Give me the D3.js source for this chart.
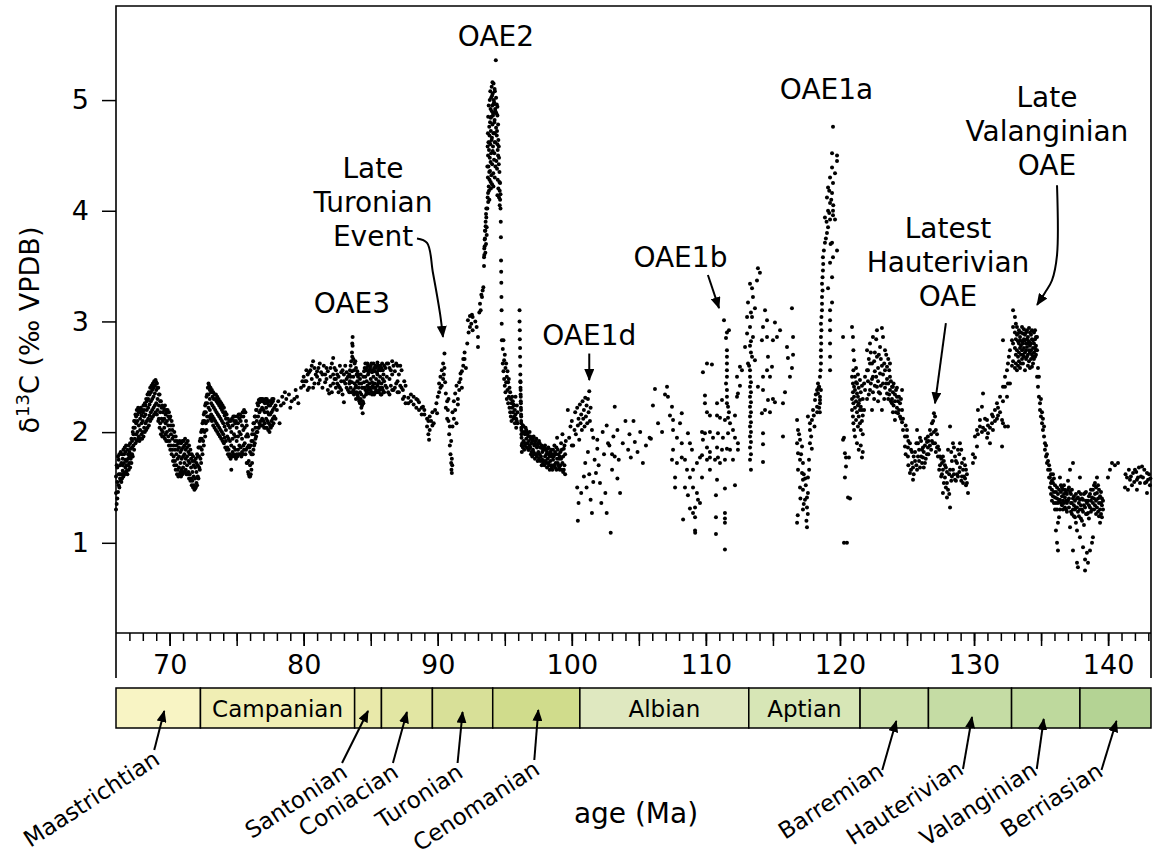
<!DOCTYPE html>
<html><head><meta charset="utf-8">
<script src="https://cdn.jsdelivr.net/npm/d3@7"></script>
<style>
body{margin:0;background:#fff;}
svg{display:block;font-family:"DejaVu Sans",sans-serif;}
</style></head><body>
<svg id="c" width="1153" height="855"></svg>
<script>
// ---------- DATA: rows are [age (Ma), d13C readings at that age ...] ----------
const maastrichtian = [[66.0,1.30,1.45,1.60],[66.1,1.40,1.55,1.68],[66.2,1.52,1.62,1.75],[66.3,1.58,1.70,1.62],[66.4,1.62,1.72,1.55],[66.5,1.65,1.76,1.70],[66.6,1.63,1.72,1.80],[66.7,1.68,1.75,1.82],[66.8,1.65,1.74,1.70],[66.9,1.70,1.80,1.76],[67.0,1.72,1.82,1.78],[67.1,1.76,1.85,1.80],[67.2,1.80,1.92,1.86],[67.3,1.88,1.98,2.04],[67.4,1.94,2.04,2.10],[67.5,1.98,2.08,2.14],[67.6,2.00,2.10,2.16],[67.7,1.96,2.06,2.18],[67.8,2.02,2.12,2.18],[67.9,1.98,2.08,2.15],[68.0,2.00,2.10,2.18],[68.1,2.04,2.14,2.20],[68.2,2.08,2.16,2.24],[68.3,2.10,2.20,2.28],[68.4,2.12,2.22,2.30],[68.5,2.15,2.25,2.34],[68.6,2.18,2.28,2.36],[68.7,2.20,2.30,2.38],[68.8,2.22,2.32,2.40],[68.9,2.24,2.35,2.42],[69.0,2.26,2.38,2.45],[69.1,2.20,2.30,2.40],[69.2,2.12,2.24,2.34],[69.3,2.08,2.18,2.28],[69.4,2.02,2.12,2.22],[69.5,2.00,2.10,2.18],[69.6,2.04,2.12,2.20],[69.7,1.98,2.08,2.16],[69.8,2.00,2.10,2.18],[69.9,1.96,2.06,2.14],[70.0,1.92,2.02,2.12],[70.1,1.88,1.98,2.06],[70.2,1.84,1.94,2.02],[70.3,1.78,1.88,1.96],[70.4,1.74,1.84,1.92],[70.5,1.70,1.80,1.88],[70.6,1.66,1.76,1.84],[70.7,1.68,1.78,1.86],[70.8,1.64,1.72,1.82],[70.9,1.66,1.76,1.84],[71.0,1.68,1.78,1.86],[71.1,1.72,1.80,1.88],[71.2,1.66,1.76,1.84],[71.3,1.70,1.78,1.86],[71.4,1.64,1.74,1.82],[71.5,1.62,1.72,1.80],[71.6,1.58,1.68,1.76],[71.7,1.56,1.64,1.74],[71.8,1.52,1.60,1.70],[71.9,1.49,1.58,1.68],[72.0,1.54,1.64,1.72],[72.1,1.60,1.70,1.78],[72.2,1.68,1.78,1.86]];
const maastrichtianExtra = [[66.05,1.35,1.70],[66.15,1.46,1.78],[66.25,1.50,1.80],[66.35,1.56,1.82],[66.45,1.58,1.80],[66.55,1.60,1.84],[66.65,1.62,1.86],[66.75,1.64,1.88],[66.85,1.62,1.84],[66.95,1.66,1.88],[67.05,1.68,1.90],[67.15,1.72,1.94],[67.25,1.78,2.00],[67.35,1.84,2.10],[67.45,1.90,2.16],[67.55,1.92,2.20],[67.65,1.94,2.22],[67.75,1.92,2.20],[67.85,1.94,2.22],[67.95,1.94,2.20],[68.05,1.96,2.24],[68.15,2.00,2.26],[68.25,2.02,2.30],[68.35,2.04,2.34],[68.45,2.06,2.36],[68.55,2.10,2.40],[68.65,2.12,2.42],[68.75,2.14,2.44],[68.85,2.16,2.46],[68.95,2.18,2.47],[69.05,2.16,2.44],[69.15,2.10,2.40],[69.25,2.04,2.34],[69.35,1.98,2.28],[69.45,1.96,2.24],[69.55,1.96,2.22],[69.65,1.94,2.24],[69.75,1.92,2.20],[69.85,1.92,2.20],[69.95,1.88,2.18],[70.05,1.84,2.14],[70.15,1.80,2.10],[70.25,1.74,2.06],[70.35,1.70,2.00],[70.45,1.66,1.96],[70.55,1.62,1.92],[70.65,1.60,1.90],[70.75,1.62,1.92],[70.85,1.60,1.90],[70.95,1.62,1.92],[71.05,1.64,1.92],[71.15,1.64,1.94],[71.25,1.62,1.90],[71.35,1.62,1.92],[71.45,1.58,1.88],[71.55,1.56,1.84],[71.65,1.52,1.80],[71.75,1.50,1.78],[71.85,1.48,1.74],[71.95,1.50,1.76],[72.05,1.52,1.80],[72.15,1.58,1.86],[72.25,1.66,1.92]];
const campanian = [[72.3,1.76,1.86,1.94],[72.4,1.84,1.94,2.02],[72.5,1.92,2.02,2.10],[72.6,2.00,2.10,2.18],[72.7,2.08,2.18,2.26],[72.8,2.14,2.26,2.34],[72.9,2.22,2.34,2.44],[73.0,2.20,2.30,2.38],[73.1,2.16,2.26,2.36],[73.2,2.14,2.24,2.32],[73.3,2.12,2.22,2.30],[73.4,2.10,2.20,2.30],[73.5,2.08,2.18,2.28],[73.6,2.06,2.16,2.26],[73.7,2.04,2.14,2.24],[73.8,2.02,2.12,2.22],[73.9,2.00,2.10,2.20],[74.0,1.98,2.08,2.18],[74.1,1.95,2.05,2.15],[74.2,1.92,2.02,2.12],[74.3,1.86,1.96,2.08],[74.4,1.84,1.94,2.06],[74.5,1.80,1.92,2.04],[74.6,1.66,1.88,2.00],[74.7,1.82,1.94,2.06],[74.8,1.86,1.98,2.10],[74.9,1.84,1.96,2.08],[75.0,1.80,1.92,2.04],[75.1,1.84,1.96,2.08],[75.2,1.88,2.00,2.12],[75.3,1.86,1.98,2.10],[75.4,1.82,1.94,2.06],[75.5,1.88,2.02,2.14],[75.6,1.90,2.04,2.18],[75.7,1.84,1.96,2.10],[75.8,1.72,1.86,1.98],[75.9,1.62,1.74,1.88],[76.0,1.60,1.70,1.82],[76.1,1.66,1.80,1.92],[76.2,1.80,1.92,2.02],[76.3,1.88,1.98,2.08],[76.4,1.94,2.04,2.14],[76.5,2.00,2.10,2.20],[76.6,2.04,2.14,2.24],[76.7,2.08,2.18,2.27],[76.8,2.10,2.20,2.28],[76.9,2.12,2.22,2.28],[77.0,2.10,2.20,2.28],[77.1,2.08,2.18,2.26],[77.2,2.12,2.22,2.29],[77.3,2.10,2.18,2.26],[77.4,2.08,2.16,2.24],[77.5,2.06,2.16,2.24],[77.6,2.10,2.18,2.26],[77.7,2.12,2.20,2.28],[77.8,2.14,2.22],[77.9,2.12,2.24],[78.0,2.20],[78.1,2.28],[78.2,2.08],[78.3,2.24],[78.4,2.32],[78.5,2.26],[78.6,2.36],[78.7,2.30],[78.9,2.34],[79.0,2.22],[79.1,2.28],[79.3,2.30],[79.4,2.38],[79.5,2.32],[79.6,2.26],[79.8,2.40],[79.9,2.46],[80.0,2.42,2.50],[80.2,2.46,2.56],[80.4,2.54,2.40],[80.6,2.60,2.48],[80.8,2.44,2.58],[81.0,2.50,2.55],[81.2,2.47,2.62],[81.4,2.40,2.52],[81.5,2.60],[81.6,2.52,2.45],[81.8,2.38,2.55],[81.9,2.35],[82.0,2.50,2.58,2.42],[82.2,2.67,2.44,2.52],[82.4,2.40,2.48,2.56],[82.6,2.42,2.50,2.36],[82.8,2.46,2.54,2.38],[83.0,2.27,2.46,2.52],[83.2,2.40,2.48,2.54],[83.4,2.36,2.44,2.52],[83.5,2.40,2.50,2.60],[83.6,2.45,2.55,2.72],[83.65,2.86,2.78],[83.7,2.38,2.50,2.66]];
const campanianExtra = [[72.35,1.72,2.00],[72.45,1.80,2.08],[72.55,1.88,2.16],[72.65,1.96,2.24],[72.75,2.02,2.32],[72.85,2.10,2.40],[72.95,2.14,2.42],[73.05,2.12,2.40],[73.15,2.10,2.38],[73.25,2.06,2.36],[73.35,2.04,2.34],[73.45,2.02,2.34],[73.55,2.00,2.32],[73.65,1.98,2.30],[73.75,1.96,2.28],[73.85,1.94,2.26],[73.95,1.92,2.24],[74.05,1.90,2.22],[74.15,1.86,2.18],[74.25,1.84,2.16],[74.35,1.80,2.12],[74.45,1.78,2.10],[74.55,1.76,2.10],[74.65,1.78,2.12],[74.75,1.80,2.14],[74.85,1.78,2.14],[74.95,1.76,2.10],[75.05,1.78,2.14],[75.15,1.80,2.16],[75.25,1.80,2.16],[75.35,1.78,2.14],[75.45,1.80,2.18],[75.55,1.84,2.20],[75.65,1.80,2.18],[75.75,1.72,2.06],[75.85,1.64,1.96],[75.95,1.60,1.86],[76.05,1.62,1.88],[76.15,1.72,1.98],[76.25,1.84,2.08],[76.35,1.90,2.14],[76.45,1.96,2.20],[76.55,2.00,2.26],[76.65,2.04,2.29],[76.75,2.06,2.30],[76.85,2.06,2.30],[76.95,2.06,2.30],[77.05,2.04,2.29],[77.15,2.04,2.30],[77.25,2.04,2.30],[77.35,2.02,2.28],[77.45,2.00,2.28],[77.55,2.04,2.28],[77.65,2.06,2.30],[77.75,2.08,2.30],[80.1,2.46],[80.3,2.38,2.52],[80.5,2.56],[80.7,2.40,2.64],[80.9,2.52],[81.1,2.44,2.58],[81.3,2.54],[81.7,2.48,2.58],[82.1,2.36,2.62],[82.3,2.48,2.58],[82.5,2.52,2.44],[82.7,2.40,2.60],[82.9,2.56,2.34],[83.1,2.44,2.60],[83.3,2.50,2.38],[83.45,2.46,2.56],[83.55,2.36,2.64],[83.62,2.68,2.80]];
const santonian = [[83.8,2.36,2.44,2.62],[83.9,2.30,2.42,2.58],[84.0,2.34,2.46,2.55],[84.1,2.30,2.40,2.52],[84.2,2.26,2.36,2.48],[84.3,2.22,2.34,2.44],[84.4,2.17,2.28,2.40],[84.5,2.32,2.45,2.55],[84.6,2.38,2.50,2.62],[84.7,2.36,2.46,2.58],[84.8,2.40,2.52,2.60],[84.9,2.35,2.44,2.56],[85.0,2.38,2.48,2.60],[85.1,2.34,2.45,2.54],[85.2,2.40,2.50,2.62],[85.3,2.36,2.44,2.55],[85.4,2.38,2.48,2.58],[85.5,2.42,2.52,2.63],[85.6,2.36,2.46,2.56],[85.7,2.40,2.50,2.60],[83.75,2.34,2.56],[83.85,2.40,2.64],[83.95,2.36,2.52],[84.05,2.32,2.50],[84.15,2.28,2.44],[84.25,2.30,2.52],[84.35,2.24,2.40],[84.45,2.26,2.50],[84.55,2.40,2.58],[84.65,2.34,2.56],[84.75,2.42,2.62],[84.85,2.38,2.54],[84.95,2.40,2.58],[85.05,2.36,2.62],[85.15,2.42,2.56],[85.25,2.34,2.58],[85.35,2.40,2.60],[85.45,2.36,2.54],[85.55,2.44,2.60],[85.65,2.38,2.58],[85.75,2.34,2.56]];
const coniacian = [[85.8,2.34,2.44,2.58],[85.9,2.38,2.48,2.56],[86.0,2.36,2.46,2.60],[86.2,2.40,2.50,2.62],[86.4,2.34,2.48,2.58],[86.6,2.38,2.52,2.64],[86.8,2.40,2.55],[87.0,2.36,2.46,2.60],[87.2,2.42,2.60],[87.4,2.30,2.38],[87.6,2.26,2.42],[87.8,2.31,2.26],[88.0,2.34,2.28],[88.2,2.32,2.25],[88.4,2.30,2.22],[88.5,2.29],[88.6,2.20,2.27],[88.8,2.22,2.16],[88.9,2.23],[89.0,2.16,2.20],[89.2,2.12,2.05],[89.3,1.98,2.10],[89.35,1.93],[89.4,2.14,2.02],[89.5,2.10],[85.85,2.40,2.62],[85.95,2.36,2.52],[86.1,2.42,2.58],[86.3,2.36,2.62],[86.5,2.42,2.56],[86.7,2.38,2.60],[86.9,2.44,2.62],[87.1,2.36,2.52],[87.3,2.40,2.56],[87.5,2.32,2.46]];
const turonian = [[89.6,2.18,2.06],[89.7,2.08],[89.8,2.20],[89.9,2.26],[89.95,2.17],[90.0,2.32],[90.1,2.44,2.36],[90.2,2.50,2.40],[90.3,2.56,2.42],[90.4,2.62,2.48],[90.45,2.52],[90.5,2.71,2.58],[90.55,2.45],[90.6,2.35,2.22],[90.7,2.28,2.12],[90.75,2.20],[90.8,2.10,2.30],[90.85,1.98],[90.9,1.88,2.05],[90.95,1.80],[91.0,1.72,1.92],[91.02,1.66],[91.05,1.63,1.76],[91.08,1.70],[91.1,2.05,2.18],[91.2,2.28,2.12],[91.3,2.35,2.20],[91.4,2.42,2.08],[91.5,2.25,2.30],[91.6,2.38,2.45],[91.7,2.48,2.53],[91.8,2.55,2.40],[91.9,2.60,2.66],[92.0,2.66,2.72],[92.1,2.58],[92.2,2.80],[92.25,3.01],[92.3,2.90],[92.4,2.95,3.05],[92.5,2.98],[92.55,3.06],[92.6,3.04,2.92],[92.8,3.00],[92.9,2.95],[93.0,2.86,2.77],[93.1,3.08],[93.15,3.16],[93.2,3.10],[93.25,3.24],[93.3,3.22],[93.35,3.28],[93.4,3.31],[93.45,3.50,3.58],[93.47,3.60,3.66],[93.5,3.68,3.74],[93.52,3.75,3.82],[93.55,3.82,3.62],[93.57,3.90,3.86],[93.6,3.97,3.70],[93.62,4.02,3.94],[93.65,3.85,3.78],[93.70,4.02,4.40],[93.72,4.12,4.58],[93.74,4.30,4.70],[93.76,4.08,4.85],[93.78,4.40,4.62],[93.80,4.22,4.95],[93.82,4.55,4.18],[93.84,4.35,4.76],[93.86,4.68,4.28],[93.88,4.48,5.00],[93.90,4.80,4.36],[93.92,4.60,5.08],[93.94,4.92,4.44],[93.96,4.72,4.20],[93.98,5.02,4.52],[94.00,4.85,4.32],[94.02,5.12,4.64],[94.04,4.66,4.90],[94.06,4.95,4.42],[94.08,4.78,5.16],[93.75,4.50,4.16],[93.85,4.10,4.62],[93.95,4.26,4.84],[94.05,4.24,5.04]];
const cenomanian = [[94.10,5.06,4.54],[94.12,4.58,4.86],[94.14,4.88,4.34],[94.16,5.15,4.70],[94.18,4.70,5.00],[94.20,4.98,4.46],[94.22,4.52,4.80],[94.24,4.82,5.10],[94.26,5.08,4.62],[94.28,4.62,4.92],[94.30,4.90,4.40],[94.33,5.36],[94.35,4.75,5.02],[94.37,4.45,4.88],[94.40,4.68,4.96],[94.42,4.38,4.72],[94.45,4.60,4.86],[94.47,4.28,4.55],[94.50,4.50,4.78],[94.52,4.20,4.64],[94.55,4.42,4.58],[94.57,4.12,4.48],[94.60,4.35,4.26],[94.62,4.05,4.18],[94.65,4.25,4.10],[94.68,4.15,4.02],[94.15,4.22,4.96],[94.25,4.30,4.70],[94.45,4.14,4.94],[94.70,3.90],[94.71,3.76],[94.72,3.55],[94.73,3.45],[94.74,3.35],[94.75,3.22],[94.76,3.10],[94.77,2.98],[94.78,2.83],[94.85,2.75,2.62],[94.9,2.83,2.55],[94.95,2.65,2.48],[95.0,2.70,2.42],[95.05,2.58,2.36],[95.1,2.62,2.45],[95.15,2.50,2.30],[95.2,2.55,2.38],[95.25,2.45,2.26],[95.3,2.48,2.32],[95.35,2.40,2.22],[95.4,2.36,2.18],[95.45,2.30,2.14],[95.5,2.26,2.10],[95.55,2.22,2.32],[95.6,2.18,2.28],[95.65,2.25,2.12],[95.7,2.14,2.24],[95.75,2.20,2.08],[95.8,2.32,2.16],[95.85,2.12,2.04],[95.9,2.24,2.10],[95.95,2.08,2.18],[96.10,3.10,3.00],[96.12,2.92,2.84],[96.14,2.76,2.68],[96.15,2.60],[96.16,2.52,2.46],[96.17,2.45,2.40],[96.18,2.38,2.34],[96.19,2.32,2.28],[96.20,2.26,2.22],[96.21,2.20,2.16],[96.22,2.14,2.10],[96.23,2.08,2.04],[96.24,2.02,1.98],[96.25,1.95],[96.26,1.88],[96.27,1.82],[96.3,2.00,1.90],[96.4,2.05,1.92],[96.5,1.88,1.98],[96.6,1.94,2.02],[96.7,1.90,1.98],[96.8,1.92,1.84],[96.9,1.96,1.86],[97.0,1.90,1.82],[97.1,1.84,1.94],[97.2,1.88,1.80],[97.3,1.80,1.92],[97.4,1.86,1.78],[97.5,1.82,1.90],[97.6,1.90,1.80],[97.7,1.78,1.86],[97.8,1.82,1.75],[97.9,1.74,1.84],[98.0,1.88,1.78],[98.1,1.80,1.72],[98.2,1.85,1.76],[98.3,1.70,1.80],[98.4,1.82,1.74],[98.5,1.78,1.68],[98.6,1.75,1.84],[98.7,1.88,1.70],[98.8,1.72,1.80],[98.9,1.95,1.76],[99.0,1.80,1.70],[99.1,1.66,1.78],[99.2,1.76,1.90],[99.3,1.98,1.72],[99.4,1.85,1.66],[99.5,1.62,1.80],[99.55,1.92],[96.35,1.86,2.06],[96.45,1.84,2.00],[96.55,1.90,2.04],[96.65,1.86,2.00],[96.75,1.84,1.96],[96.85,1.88,2.00],[96.95,1.80,1.94],[97.05,1.78,1.92],[97.15,1.82,1.96],[97.25,1.76,1.90],[97.35,1.80,1.94],[97.45,1.74,1.88],[97.55,1.76,1.92],[97.65,1.74,1.86],[97.75,1.70,1.88],[97.85,1.72,1.84],[97.95,1.70,1.86],[98.05,1.74,1.84],[98.15,1.68,1.82],[98.25,1.72,1.86],[98.35,1.66,1.78],[98.45,1.70,1.84],[98.55,1.66,1.80],[98.65,1.70,1.78],[98.75,1.68,1.82],[98.85,1.66,1.86],[98.95,1.72,1.84],[99.05,1.68,1.76],[99.15,1.70,1.82],[99.25,1.66,1.84],[99.35,1.64,1.78],[99.45,1.70,1.88],[99.7,2.20],[99.8,1.95],[99.9,2.05],[100.0,2.10,1.88],[100.1,1.88],[100.2,2.02],[100.25,2.18],[100.3,1.98],[100.4,2.22,1.50],[100.45,2.06,1.20],[100.5,2.12,1.36]];
const albian = [[100.55,1.93],[100.6,2.25],[100.65,2.08],[100.7,2.16,1.45],[100.75,2.02],[100.8,2.28],[100.85,2.12],[100.9,2.20,1.60],[100.95,2.05],[101.0,2.31,1.72],[101.05,2.14],[101.1,2.24,1.50],[101.15,2.08],[101.2,2.30,1.82],[101.25,2.18],[101.3,2.37,1.62],[101.35,2.10],[101.4,2.22,1.39],[101.5,2.02,1.27],[101.6,1.95,1.55],[101.7,1.75],[101.8,1.63],[101.9,1.85,1.93],[102.0,1.70],[102.1,1.54],[102.2,1.36],[102.3,2.00],[102.4,1.80],[102.5,1.45],[102.6,1.27,2.06],[102.7,1.90],[102.8,1.88],[102.9,1.09],[103.0,1.66,1.80],[103.1,1.96],[103.2,1.78,2.23],[103.4,1.58,2.02],[103.5,1.75],[103.6,1.45],[103.8,1.90],[104.0,2.10],[104.2,1.84],[104.3,1.98],[104.4,1.77],[104.6,2.10],[104.7,1.91],[104.9,1.82],[105.1,2.00],[105.3,1.72],[105.53,1.88],[105.8,1.95],[105.9,1.94],[106.05,2.24],[106.2,2.39],[106.43,2.08],[106.73,2.00],[106.95,2.34],[107.1,2.41],[107.17,2.32],[107.32,2.15],[107.47,2.23,1.75],[107.55,2.11,2.02,1.84],[107.7,1.59,1.50],[107.84,1.95,1.72],[108.07,2.08],[108.2,2.17,1.90,1.77],[108.3,1.21],[108.44,1.75,1.50],[108.59,1.66],[108.66,1.99,1.43],[108.81,1.90,1.59,1.31],[108.96,1.84],[109.04,1.66,1.50,1.27],[109.19,1.32,1.23,1.11],[109.2,1.09],[109.33,1.72,1.45],[109.41,1.39],[109.56,1.77,1.36],[109.71,1.59,2.00,1.79],[109.78,1.93,2.54],[109.93,2.33,2.26,1.99],[110.08,2.62,2.18,1.86,1.75],[110.3,2.15,2.00,1.82,1.77,1.66],[110.45,2.61],[110.53,1.95],[110.68,1.75],[110.75,1.43,1.23,1.08],[110.83,2.26,2.15,1.86,1.57],[110.9,1.99,1.77],[111.05,2.13,1.72],[111.2,2.29,1.84],[111.27,1.95],[111.35,3.01],[111.42,2.11,1.75,1.49,1.27,1.22,1.18,0.94],[111.5,2.85,2.44],[111.57,2.90,2.74,2.68,2.62,2.56,2.50,2.38,2.32,2.26,1.85],[111.65,2.13,1.99,2.23],[111.72,2.92,2.18],[111.8,2.08,1.84],[112.02,2.02,1.75],[112.17,1.95,2.15,1.52],[112.32,2.32,2.50],[112.39,1.90,1.84,2.35],[112.54,2.42,2.59],[112.69,2.56],[112.92,2.77],[113.07,3.04,2.89],[113.14,3.17,2.62]];
const aptian = [[113.22,2.60],[113.29,3.34,2.95,2.78,2.56,2.50,2.41,2.32,2.23,2.14,2.05,1.96,1.86,1.75],[113.36,1.66,2.45,2.36,2.27,2.18,2.09,2.00,1.91,1.80,2.72,2.82,3.08],[113.44,3.30,3.04,2.68],[113.51,3.22,2.86],[113.66,3.12,2.65],[113.81,3.37],[113.88,3.48,2.41],[114.03,3.44],[114.18,2.83,2.17],[114.26,2.95,2.50,2.38,1.99,1.89,1.73],[114.41,3.10,2.20],[114.56,3.01,2.86,2.56],[114.63,2.68,2.29],[114.78,2.50,2.18],[114.93,2.59],[115.0,2.83,2.30],[115.15,2.99,2.27],[115.3,2.86],[115.53,2.92],[115.75,2.26,1.96],[115.9,2.36],[116.05,2.77],[116.12,2.67],[116.27,2.50],[116.42,3.12,2.58],[116.5,2.86,2.70],[116.8,2.11,1.90,1.18],[116.85,1.25],[116.87,2.02,1.81,1.66],[116.95,1.98],[117.02,1.93,1.75,1.50],[117.05,1.40],[117.1,1.80],[117.17,1.87,1.63],[117.24,1.72,1.57,1.48,1.30],[117.3,1.62,1.35],[117.39,1.39],[117.4,1.58],[117.45,1.52],[117.5,1.20],[117.54,1.41,1.32,1.14],[117.6,1.26],[117.61,1.45,1.59,2.14],[117.69,1.75],[117.7,1.66],[117.76,1.90,2.02,2.08],[117.85,1.96],[117.9,1.85],[117.91,2.11],[117.99,2.20],[118.05,2.15],[118.1,2.05],[118.14,2.29],[118.2,2.34],[118.29,2.38,2.23],[118.3,2.18],[118.36,2.44,2.35],[118.4,2.40],[118.45,2.22,2.41],[118.5,2.18],[118.51,2.32,2.26,2.50,2.29],[118.55,2.56],[118.58,2.62,2.74,2.86,2.98,2.38,2.68],[118.6,2.80],[118.62,2.92,3.04],[118.66,3.10,3.22,3.34,3.16],[118.7,3.28,3.40],[118.73,3.46,3.58],[118.75,3.52],[118.8,3.64],[118.88,3.71,3.94],[118.95,3.75],[119.0,3.90],[119.03,3.80,4.12],[119.11,3.85,4.00,4.21,3.30],[119.2,3.98,4.18],[119.26,3.92,4.07,4.30,3.53,3.10,3.01,2.92,2.80,2.68,2.56],[119.3,3.70],[119.35,4.10],[119.41,4.16,4.39,4.52,3.71,3.40,3.17],[119.48,4.25,4.76,3.96,4.00,3.58],[119.5,4.05],[119.63,4.34,3.92],[119.78,4.45,4.50,3.64],[120.23,1.93,2.86],[120.3,1.00,1.95],[120.37,1.81,1.59],[120.45,1.69,1.77],[120.52,1.00],[120.6,1.41],[120.67,1.77],[120.75,1.40],[120.9,2.95,2.50,2.30,2.20],[120.97,2.86,2.44,2.36,2.14],[121.0,2.74,2.56,2.26,2.08],[121.05,2.65,2.41,2.32,2.02],[121.12,2.50,2.38,2.22,1.96],[121.2,2.58,2.45,2.28,2.11],[121.27,2.44,2.35,2.18,1.90],[121.34,2.52,2.32,2.24,2.05],[121.4,2.40,2.26,2.14,1.84]];
const barremian = [[121.49,2.47,2.29,2.20,2.08],[121.55,2.36,2.23,2.02,1.88],[121.64,2.42,2.20,2.10,1.77],[121.7,2.30,2.15,1.98,1.82],[121.87,2.38,2.50],[122.02,2.74,2.56,2.30],[122.09,2.56,2.46],[122.24,2.80,2.38,2.62],[122.39,2.62,2.20,2.48],[122.46,2.86,2.50,2.36],[122.6,2.72,2.42,2.55],[122.76,2.92,2.68,2.41],[122.84,2.58,2.28,2.46],[122.99,2.53,2.77,2.35],[123.13,2.94,2.20,2.60],[123.21,2.86,2.44,2.52],[123.36,2.74,2.56,2.40],[123.51,2.59,2.35,2.48],[123.6,2.66,2.30,2.44],[123.73,2.50,2.62,2.38],[123.88,2.41,2.26,2.30],[123.95,2.41,2.18,2.36],[124.1,2.11,2.28,2.34],[124.25,2.32,2.22,2.40],[124.33,2.17,2.28],[124.48,2.26,2.14],[124.63,2.38,2.09,2.20],[124.7,2.02,2.12],[121.8,2.20,2.44],[122.15,2.34,2.66],[122.3,2.44,2.72],[122.55,2.30,2.64],[122.7,2.50,2.84],[122.9,2.36,2.70],[123.05,2.42,2.66],[123.3,2.30,2.62],[123.45,2.44,2.70],[123.67,2.34,2.56],[123.8,2.28,2.46],[124.0,2.24,2.44],[124.18,2.18,2.38],[124.4,2.20,2.32],[124.55,2.12,2.30],[124.85,1.87,1.96],[125.0,1.96,2.02],[125.07,1.78,1.86],[125.22,1.90,1.63],[125.37,1.72,1.82],[125.45,1.57,1.68],[125.6,1.82,1.74],[125.75,2.02,1.66],[125.82,1.90,1.78],[125.97,1.95,1.68],[126.12,1.84,1.72],[126.19,1.77,1.86],[126.34,1.88,1.72],[126.49,1.91,1.80],[124.9,1.80,2.06],[125.1,1.70,1.92],[125.3,1.66,1.84],[125.5,1.62,1.78],[125.7,1.70,1.90],[125.9,1.74,1.84],[126.05,1.78,1.92],[126.25,1.68,1.82],[126.4,1.76,1.94]];
const hauterivian = [[126.56,1.86,1.96],[126.71,2.02,1.88],[126.86,2.08,1.92],[127.01,2.17,2.00],[127.09,2.14,1.90],[127.24,1.98,1.86],[127.31,1.87,1.78],[127.46,1.78,1.70],[127.61,1.72,1.62],[127.68,1.66,1.78,1.45],[127.83,1.59,1.70],[127.98,1.54,1.64,1.41],[128.06,1.48,1.84],[128.21,1.32,2.05,1.66],[128.35,1.60,1.74],[128.43,1.90,1.66],[128.58,1.78,1.57],[128.73,1.72,1.62],[128.8,1.84,1.60],[128.95,1.90,1.68],[129.1,1.60,1.72],[129.18,1.54,1.66],[129.33,1.70,1.58],[129.47,1.54,1.62],[129.55,1.45],[126.6,1.80,1.92],[126.8,1.84,1.98],[126.95,1.90,2.10],[127.15,1.82,2.02],[127.4,1.66,1.84],[127.55,1.60,1.76],[127.75,1.54,1.74],[127.9,1.50,1.68],[128.15,1.44,1.62],[128.3,1.56,1.82],[128.5,1.62,1.86],[128.65,1.56,1.74],[128.9,1.64,1.80],[129.05,1.56,1.84],[129.25,1.60,1.76],[129.4,1.52,1.66],[129.92,1.72,1.80],[130.07,1.77,1.96],[130.22,1.87,2.02],[130.29,2.20,1.98],[130.44,2.11,2.05],[130.59,2.23,2.00],[130.67,2.35,2.04],[130.82,2.02,2.12],[130.97,2.11,1.95],[131.04,1.99,2.06],[131.19,1.90,2.04],[131.34,2.08,2.16],[131.41,2.14,2.02],[131.56,2.20,2.10],[131.71,2.26,2.12],[131.79,2.15,2.22],[131.94,2.32,2.18],[132.09,2.11,1.87],[132.16,2.08,2.28,2.41,2.83],[132.31,2.05,2.41,2.50],[132.46,2.56,2.32],[132.53,2.62,2.44,2.05],[132.6,2.68],[132.68,2.74,2.44]];
const valanginian = [[132.83,2.83,2.60],[132.91,3.10,2.95,2.80,2.64],[133.05,3.04,2.90,2.76,2.58],[133.12,2.98,2.84,2.70,2.62],[133.2,2.95,2.88,2.74,2.56],[133.28,2.89,2.82,2.68,2.60],[133.35,2.92,2.80,2.72,2.64],[133.43,2.83,2.86,2.76,2.58],[133.5,2.90,2.78,2.70,2.62],[133.58,2.95,2.74,2.82,2.66],[133.65,2.89,2.80,2.62,2.70],[133.72,2.93,2.84,2.76,2.68],[133.8,2.83,2.88,2.72,2.56],[133.88,2.90,2.80,2.66,2.74],[133.95,2.92,2.84,2.77,2.68],[134.02,2.86,2.80,2.70,2.60],[134.1,2.94,2.82,2.74,2.64],[134.17,2.90,2.78,2.72,2.58],[134.25,2.88,2.80,2.66,2.74],[134.32,2.92,2.84,2.59,2.70],[134.4,2.83,2.76,2.68,2.62],[134.47,2.90,2.80,2.72,2.66],[134.55,2.92,2.84,2.68,2.76],[134.62,2.86,2.78,2.70,2.74],[134.7,2.86,2.74,2.50],[134.77,2.41,2.58],[134.84,2.32,2.50],[134.92,2.26,2.20],[134.99,2.14,2.30],[135.07,2.08,2.18],[135.14,2.02,2.12],[135.22,1.96,2.05],[135.29,1.90,1.84],[135.37,1.78,1.88],[135.44,1.72,1.80],[135.52,1.66,1.74],[135.6,1.59,1.70],[135.66,1.59,1.50,1.66],[135.74,1.54,1.62,1.44],[135.81,1.48,1.56,1.38],[135.89,1.54,1.42,1.62],[135.96,1.46,1.36,1.58],[136.04,1.41,1.52,1.30],[136.11,1.46,1.11,1.36],[136.19,1.50,1.30,1.00,1.40],[136.26,1.44,1.18,0.93,1.36],[136.34,1.48,1.38,1.23],[136.41,1.39,1.59,1.30],[136.48,1.46,1.36,1.52],[136.56,1.42,1.34,1.50],[136.63,1.48,1.38,1.30],[136.71,1.44,1.36,1.52],[136.78,1.41,1.32,1.48],[136.86,1.38,1.46,1.30],[136.93,1.36,1.44,1.28],[137.01,1.48,1.38,1.56],[137.08,1.40,1.50,1.32],[137.16,1.46,1.66,1.14],[137.23,1.36,1.44,1.28],[137.3,1.36,1.48,1.26],[137.38,1.30,1.72,1.40,0.93],[137.45,1.34,1.42,1.24],[137.53,1.23,1.38,1.30],[137.6,1.32,1.44,1.18],[137.68,1.32,1.11,0.82,1.40],[137.75,1.41,0.78,1.28],[137.82,1.36,1.46,1.24]];
const berriasian = [[137.9,1.39,1.05,1.30,1.59],[137.97,1.34,1.44,1.22],[138.05,1.30,1.40,1.20],[138.13,1.39,0.96,1.28],[138.2,1.44,1.34,1.16],[138.28,1.45,0.85,0.75,1.32],[138.35,1.38,1.26,1.46],[138.42,1.36,0.91,1.26],[138.5,1.27,0.82,1.38],[138.57,1.34,1.42,1.22],[138.65,1.32,0.93,1.44],[138.72,1.38,1.28,1.48],[138.8,1.41,1.00,1.30],[138.87,1.48,1.05,1.36],[138.95,1.52,1.40,1.30],[139.02,1.54,1.44,1.34],[139.1,1.50,1.38,1.26],[139.17,1.59,1.45,1.32],[139.25,1.52,1.40,1.28],[139.32,1.48,1.36,1.24],[139.4,1.30,1.42,1.18],[139.47,1.36,1.26,1.46],[139.54,1.23,1.34,1.40],[139.62,1.30,1.38],[139.99,1.59],[140.14,1.66],[140.29,1.72],[140.51,1.70],[140.74,1.72],[141.26,1.50],[141.3,1.62],[141.41,1.59],[141.48,1.48],[141.55,1.66],[141.63,1.57],[141.7,1.60],[141.78,1.52],[141.86,1.63],[141.95,1.55],[142.0,1.66],[142.1,1.64],[142.15,1.57,1.48],[142.23,1.59],[142.3,1.68],[142.38,1.54],[142.45,1.60],[142.53,1.69],[142.6,1.59],[142.7,1.66],[142.75,1.54],[142.85,1.55],[142.9,1.63,1.45],[142.98,1.57],[143.05,1.62],[143.12,1.52],[143.15,1.58]];

// stages (boundaries in Ma)
const stageNames = ["Maastrichtian","Campanian","Santonian","Coniacian","Turonian","Cenomanian","Albian","Aptian","Barremian","Hauterivian","Valanginian","Berriasian"];
const stageBounds = [66.0,72.3,83.8,85.8,89.6,94.1,100.6,113.2,121.5,126.6,132.8,137.9,143.2];
const stageColors = ["#f8f4c4","#f0eeb4","#e9e9aa","#e2e6a3","#d8e098","#d0dc8c","#dfe8c0","#d7e6b6","#cce0aa","#c5dca4","#bed99d","#b4d394"];
const stageLabelInBox = [false,true,false,false,false,false,true,true,false,false,false,false];

// tick labels
const xTickLabels = [70,80,90,100,110,120,130,140];
const yTickLabels = [1,2,3,4,5];

// ---------- LAYOUT ----------
const svg = d3.select("#c");
const x = d3.scaleLinear().domain([66,143.2]).range([116,1151]);
const y = d3.scaleLinear().domain([0.185,5.85]).range([633,6]);
const [xl,xr] = x.range(); const [yb,yt] = y.range();

const defs = svg.append("defs");
defs.append("marker").attr("id","ah").attr("viewBox","0 0 12 10").attr("refX",11).attr("refY",5)
  .attr("markerWidth",12).attr("markerHeight",10).attr("markerUnits","userSpaceOnUse").attr("orient","auto")
  .append("path").attr("d","M0,0L12,5L0,10Z").attr("fill","#000");

// points
const allRows = [maastrichtian,maastrichtianExtra,campanian,campanianExtra,santonian,coniacian,turonian,cenomanian,albian,aptian,barremian,hauterivian,valanginian,berriasian].flat();
const points = allRows.flatMap(r => r.slice(1).map(v => ({age:r[0], d13C:v})));
svg.append("g").selectAll("circle").data(points).join("circle")
  .attr("cx",d=>x(d.age)).attr("cy",d=>y(d.d13C)).attr("r",2).attr("fill","#000");

// frame
svg.append("path").attr("d",`M${xl},678V${yt}H${xr}V678`).attr("fill","none").attr("stroke","#000").attr("stroke-width",1.6);
svg.append("line").attr("x1",xl).attr("x2",xr).attr("y1",yb).attr("y2",yb).attr("stroke","#000").attr("stroke-width",1.6);

// x axis
function styleAxis(g){ g.select(".domain").remove(); g.selectAll("line").attr("stroke-width",1.5); }
svg.append("g").attr("transform",`translate(0,${yb})`)
  .call(d3.axisBottom(x).tickValues(d3.range(67,144,1)).tickSize(8).tickFormat("")).call(styleAxis);
svg.append("g").attr("transform",`translate(0,${yb})`)
  .call(d3.axisBottom(x).tickValues(d3.range(70,144,5)).tickSize(13).tickFormat("")).call(styleAxis);
svg.append("g").attr("transform",`translate(0,${yb})`)
  .call(d3.axisBottom(x).tickValues(xTickLabels).tickSize(13).tickPadding(9).tickFormat(d3.format("d")))
  .call(styleAxis).call(g=>g.selectAll("text").attr("font-size",27).attr("fill","#000").attr("font-family","DejaVu Sans"));
// y axis
svg.append("g").attr("transform",`translate(${xl},0)`)
  .call(d3.axisLeft(y).tickValues(yTickLabels).tickSize(14).tickPadding(13).tickFormat(d3.format("d")))
  .call(styleAxis).call(g=>g.selectAll("text").attr("font-size",27).attr("fill","#000").attr("font-family","DejaVu Sans"));

// axis titles
const yl = svg.append("text").attr("transform","translate(39,330) rotate(-90)").attr("text-anchor","middle").attr("font-size",27);
yl.append("tspan").text("δ");
yl.append("tspan").attr("font-size",18).attr("dy",-10).text("13");
yl.append("tspan").attr("dy",10).text("C (‰ VPDB)");
svg.append("text").attr("x",636).attr("y",823).attr("text-anchor","middle").attr("font-size",28).text("age (Ma)");

// annotations (anchors in data space)
const annot = [
  {lines:["OAE2"], at:[94.34,5.49]},
  {lines:["Late","Turonian","Event"], at:[85.17,4.30]},
  {lines:["OAE3"], at:[83.6,3.075]},
  {lines:["OAE1d"], at:[101.3,2.79]},
  {lines:["OAE1b"], at:[108.1,3.49]},
  {lines:["OAE1a"], at:[119.0,5.01]},
  {lines:["Latest","Hauterivian","OAE"], at:[128.06,3.75]},
  {lines:["Late","Valanginian","OAE"], at:[135.44,4.94]}
];
annot.forEach(a=>{
  const t = svg.append("text").attr("text-anchor","middle").attr("font-size",28)
    .attr("x",x(a.at[0])).attr("y",y(a.at[1]));
  a.lines.forEach((s,i)=>t.append("tspan").attr("x",x(a.at[0])).attr("dy",i?34:0).text(s));
});
const arrows = [
  [[88.45,3.75],[89.2,3.71],[89.64,3.44],[90.17,3.07],[90.39,2.86]],
  [[101.3,2.71],[101.3,2.47]],
  [[110.15,3.42],[110.98,3.12]],
  [[127.9,2.985],[127.09,2.26]],
  [[136.19,4.23],[136.19,3.60],[135.81,3.37],[135.29,3.26],[134.7,3.15]]
];
const aline = d3.line().x(d=>x(d[0])).y(d=>y(d[1])).curve(d3.curveCatmullRom);
arrows.forEach(p=>svg.append("path").attr("d",aline(p)).attr("fill","none").attr("stroke","#000")
  .attr("stroke-width",2).attr("marker-end","url(#ah)"));

// stage bar
const bar = svg.append("g");
const stages = stageNames.map((n,i)=>({name:n,a0:stageBounds[i],a1:stageBounds[i+1],color:stageColors[i],inBox:stageLabelInBox[i]}));
bar.selectAll("rect").data(stages).join("rect")
  .attr("x",d=>x(d.a0)).attr("width",d=>x(d.a1)-x(d.a0)).attr("y",688).attr("height",40)
  .attr("fill",d=>d.color).attr("stroke","#000").attr("stroke-width",1.5);
bar.selectAll("text.in").data(stages.filter(d=>d.inBox)).join("text").attr("class","in")
  .attr("x",d=>x((d.a0+d.a1)/2)).attr("y",717).attr("text-anchor","middle").attr("font-size",23).text(d=>d.name);
// outside labels with arrows: [tipDx, tipY, startDx, startDy, textDx, textDy]
const outLayout = {Maastrichtian:[6,711,-10,39,7,13],Santonian:[0,711,-26,52,7,13],Coniacian:[0,712,-14,51,7,13],Turonian:[0,712,-5,51,7,13],
  Cenomanian:[2,710,-4,50,7,13],Barremian:[2,721,-14,49,3,5],Hauterivian:[2,717,-9,52,2,4],Valanginian:[-2,719,-7,50,2,5],Berriasian:[1,721,-15,49,3,5]};
stages.filter(d=>!d.inBox).forEach(d=>{
  const L = outLayout[d.name];
  const tx = x((d.a0+d.a1)/2)+L[0], ty = L[1];
  const sx = tx+L[2], sy = ty+L[3];
  svg.append("line").attr("x1",sx).attr("y1",sy).attr("x2",tx).attr("y2",ty)
    .attr("stroke","#000").attr("stroke-width",2).attr("marker-end","url(#ah)");
  svg.append("text").attr("transform",`translate(${sx+L[4]},${sy+L[5]}) rotate(-33)`)
    .attr("text-anchor","end").attr("font-size",23).text(d.name);
});
</script></body></html>
